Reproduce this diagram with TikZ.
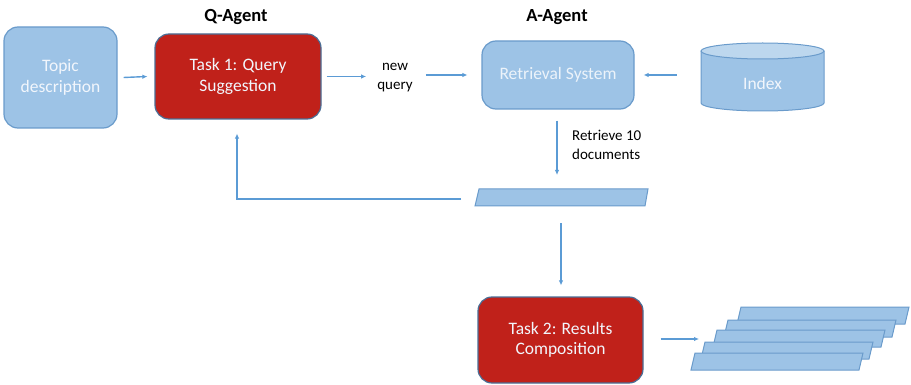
\documentclass[tikz,border=0pt]{standalone}
\usepackage{fontspec}
\setmainfont{Carlito}
\usetikzlibrary{arrows.meta}
\definecolor{lblue}{HTML}{9DC3E6}
\definecolor{lbluedark}{HTML}{6A9BCB}
\definecolor{lbluetop}{HTML}{BDD7EE}
\definecolor{dred}{HTML}{C0211A}
\definecolor{redborder}{HTML}{4A6E96}
\definecolor{arrowc}{HTML}{5B9BD5}
\definecolor{boxtext}{HTML}{F2F6FC}
\tikzset{
  bluebox/.style={draw=lbluedark, fill=lblue, line width=1.2pt, rounded corners=14pt, inner sep=0pt, text=boxtext, align=center, font=\fontsize{17.5}{20.5}\selectfont},
  redbox/.style={draw=redborder, fill=dred, line width=1.2pt, rounded corners=14pt, inner sep=0pt, text=boxtext, align=center, font=\fontsize{17.5}{20.5}\selectfont},
  doc/.style={draw=lbluedark, fill=lblue, line width=1pt},
  arr/.style={draw=arrowc, line width=1.4pt, -{Latex[length=5pt,width=4.5pt]}},
  title/.style={font=\fontsize{18.5}{22}\selectfont\bfseries},
  lbl/.style={font=\fontsize{15}{19}\selectfont, inner sep=0pt}
}
\begin{document}
\begin{tikzpicture}[x=1pt,y=-1pt]
\useasboundingbox (0,0) rectangle (911,385);
% boxes
\node[bluebox, minimum width=113pt, minimum height=101pt] (topic) at (60.5,77.5) {Topic\\description};
\node[redbox, minimum width=166pt, minimum height=85pt] (task1) at (238,76.5) {Task 1: Query\\Suggestion};
\node[bluebox, minimum width=152pt, minimum height=68pt, text=boxtext!93!lblue] (ret) at (558,75) {Retrieval System};
\node[redbox, minimum width=165pt, minimum height=86pt] (task2) at (560.5,340) {Task 2: Results\\Composition};
% titles
\node[title] (qa) at (236,17) {Q-Agent};
\node[title] (aa) at (557,17) {A-Agent};
% cylinder
\fill[lblue] (701,51) -- (701,103) arc[start angle=180,end angle=0,x radius=61.5,y radius=8] -- (824,51) -- cycle;
\draw[lbluedark, line width=1pt] (701,51) -- (701,103) arc[start angle=180,end angle=0,x radius=61.5,y radius=8] -- (824,51);
\draw[lbluedark, fill=lbluetop, line width=1pt] (762.5,51) ellipse[x radius=61.5, y radius=8];
\node[inner sep=0pt, minimum width=123pt, minimum height=60pt, text=boxtext, font=\fontsize{17.5}{20.5}\selectfont] (idx) at (762.5,83) {Index};
% single document
\draw[doc] (479,189) -- (648,189) -- (645,206) -- (475,206) -- cycle;
% stack
\foreach \dx/\dy in {46/-46,33/-33,22/-23,10/-11,0/0}{
  \draw[doc] (695+\dx,353+\dy) -- (863+\dx,353+\dy) -- (859+\dx,370+\dy) -- (691+\dx,370+\dy) -- cycle;
}
\coordinate (stack) at (691,339);
% labels
\node[lbl, align=center] (nq) at (395,78) {new\\query};
\node[lbl, align=left, anchor=west] (r10) at (572,145) {Retrieve 10\\documents};
% connectors
\draw[arr] ([xshift=6pt]topic.east) -- ([xshift=-7pt]task1.west);
\draw[arr] ([xshift=5pt]task1.east) -- ([xshift=-11pt]nq.west |- task1.east);
\draw[arr] ([xshift=13pt]nq.east |- ret.west) -- ([xshift=-14pt]ret.west);
\draw[arr] ([xshift=-24pt]idx.west |- ret.east) -- ([xshift=9pt]ret.east);
\draw[arr] ([yshift=-11pt]ret.south -| 557,0) -- (557,175);
\draw[arr] (461,199) -- (237,199) -- ([yshift=-14pt]task1.south -| 237,0);
\draw[arr] (561,223) -- ([yshift=11pt]task2.north -| 561,0);
\draw[arr] ([xshift=17pt]task2.east |- 0,339) -- ([xshift=8pt]stack);
\end{tikzpicture}
\end{document}
